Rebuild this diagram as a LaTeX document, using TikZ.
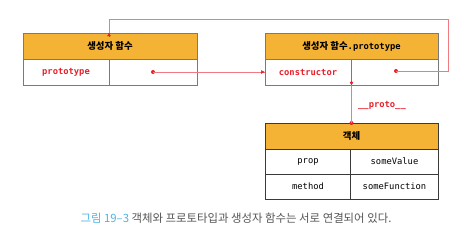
\documentclass[tikz,border=0pt]{standalone}
\usepackage{fontspec}
\setmainfont{Noto Sans CJK KR}
\newfontfamily\hangul{Noto Sans CJK KR}
\newfontfamily\codefont{DejaVu Sans Mono}
\usetikzlibrary{arrows.meta}
\definecolor{jsOrange}{HTML}{F5B335}
\definecolor{jsRed}{HTML}{E8202A}
\definecolor{jsLink}{HTML}{F07A80}
\definecolor{jsFrame}{HTML}{7A7A7A}
\definecolor{jsDark}{HTML}{3A3A3A}
\definecolor{jsBlue}{HTML}{4FB3E0}
\definecolor{jsGray}{HTML}{555555}
\begin{document}
\begin{tikzpicture}[x=1pt, y=-1pt, cell/.style={draw=jsFrame, line width=0.8pt, fill=white, minimum height=26pt, inner sep=0pt, font=\codefont\fontsize{8.8}{10}\selectfont}, head/.style={cell, fill=jsOrange, font=\hangul\bfseries\fontsize{9.4}{11}\selectfont}, keytext/.style={text=jsRed, font=\codefont\bfseries\fontsize{8.8}{10}\selectfont}, objcell/.style={cell, draw=jsDark, minimum height=25pt}, link/.style={draw=jsLink, line width=0.8pt}, tip/.style={-{Triangle[length=3.5pt, width=3.5pt]}, jsRed}, dot/.style={circle, fill=jsRed, inner sep=0pt, minimum size=4pt}]
\useasboundingbox (0,0) rectangle (468,238);
% constructor function
\node[head, minimum width=174pt] (ctorhead) at (110,46) {생성자 함수};
\node[cell, keytext, minimum width=86pt] (ctorkey) at (66,72) {prototype};
\node[cell, minimum width=88pt] (ctorval) at (153,72) {};
% prototype object
\node[head, minimum width=173pt] (protohead) at (351.5,46) {생성자 함수{\codefont\bfseries\fontsize{8.8}{10}\selectfont .prototype}};
\node[cell, keytext, minimum width=86pt] (protokey) at (308,72) {constructor};
\node[cell, minimum width=87pt] (protoval) at (394.5,72) {};
% instance
\node[head, draw=jsDark, minimum width=173pt] (objhead) at (351.5,136) {객체};
\node[objcell, minimum width=85pt] (propkey) at (308,161.5) {prop};
\node[objcell, minimum width=88pt] (propval) at (394.5,161.5) {someValue};
\node[objcell, minimum width=85pt] (methodkey) at (308,186.5) {method};
\node[objcell, minimum width=88pt] (methodval) at (394.5,186.5) {someFunction};
% links
\node[dot] (ctordot) at (153,72) {};
\node[dot] (protodot) at (396,71) {};
\node[dot] (objdot) at (351.5,123) {};
\coordinate (loopa) at (448,71);
\coordinate (loopb) at (448,19);
\coordinate (loopc) at (109,19);
\draw[link] (ctordot.center) -- (protokey.west);
\draw[link] (protodot.center) -- (loopa) -- (loopb) -- (loopc) -- (loopc |- ctorhead.north);
\draw[link] (objdot.center) -- (objdot |- protokey.south);
\draw[tip] ([xshift=-4pt]protokey.west) -- (protokey.west);
\draw[tip] ([yshift=-4pt]loopc |- ctorhead.north) -- (loopc |- ctorhead.north);
\draw[tip] ([yshift=4pt]objdot |- protokey.south) -- (objdot |- protokey.south);
\node[keytext] (protolabel) at (382,105) {\_\_proto\_\_};
% caption
\node[anchor=west, font=\hangul\fontsize{11.4}{13}\selectfont, text=jsGray] (caption) at (77,218) {{\color{jsBlue}그림 19–3} 객체와 프로토타입과 생성자 함수는 서로 연결되어 있다.};
\end{tikzpicture}
\end{document}
